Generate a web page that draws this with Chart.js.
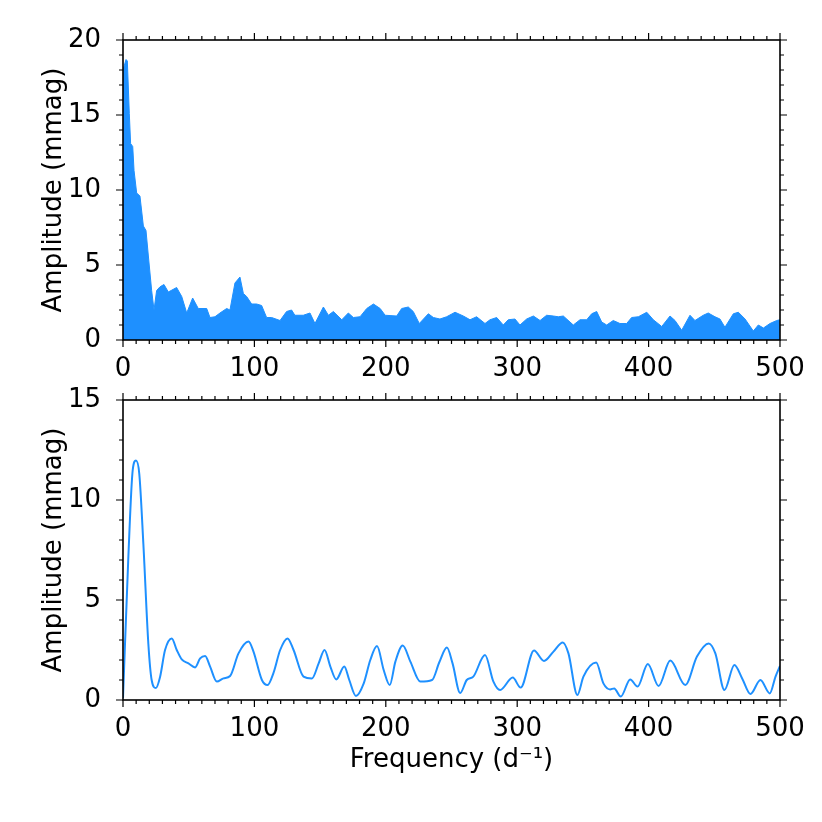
<!DOCTYPE html>
<html>
<head>
<meta charset="utf-8">
<script src="https://cdn.jsdelivr.net/npm/chart.js@4.4.0/dist/chart.umd.min.js"></script>
<style>
  body { margin: 0; background: #fff; }
  #wrap { position: relative; width: 822px; height: 822px; }
  canvas { position: absolute; left: 0; }
</style>
</head>
<body>
<div id="wrap">
  <canvas id="topChart" width="822" height="390" style="top:0;width:822px;height:390px"></canvas>
  <canvas id="botChart" width="822" height="462" style="top:360px;width:822px;height:462px"></canvas>
</div>
<script>
// upper panel: envelope of the dense periodogram (frequency d^-1, amplitude mmag)
const topFreq = [0, 2.3, 3.3, 4.8, 5.8, 7.4, 8.4, 10.4, 12.9, 15.5, 17.5, 19.3, 21.8, 23.6, 25.6, 28.2, 31.2, 34.5,
  40.8, 44.7, 48.5, 53.0, 57.3, 63.7, 66.2, 70.0, 73.8, 78.9, 81.4, 85.2, 89.0, 91.6, 94.1, 97.9, 101.7, 105.5,
  109.3, 113.1, 119.5, 124.5, 128.3, 130.8, 137.2, 142.3, 146.1, 152.5, 156.3, 160.1, 166.5, 171.5, 175.3, 180.4,
  185.5, 190.6, 195.7, 199.5, 208.3, 212.1, 217.1, 220.9, 225.5, 232.4, 236.2, 241.2, 246.3, 252.7, 259.0, 264.1,
  269.1, 275.5, 279.3, 284.4, 289.4, 293.2, 298.3, 302.1, 307.2, 312.3, 317.4, 322.4, 327.5, 331.3, 335.1, 342.7,
  347.8, 352.9, 356.7, 360.5, 364.3, 368.1, 373.1, 378.2, 383.3, 387.1, 392.2, 398.6, 403.6, 410.0, 416.3, 420.1,
  425.2, 431.5, 435.3, 441.6, 445.4, 450.5, 454.3, 458.1, 464.5, 468.3, 473.4, 479.7, 483.5, 487.4, 492.4, 497.5, 500];
const topAmp = [18.0, 18.7, 18.6, 15.1, 13.1, 12.9, 11.3, 9.8, 9.6, 7.6, 7.3, 5.6, 3.3, 2.0, 3.3, 3.55, 3.7, 3.2,
  3.5, 2.9, 1.8, 2.8, 2.1, 2.1, 1.5, 1.55, 1.8, 2.1, 2.0, 3.8, 4.2, 3.1, 2.9, 2.4, 2.4, 2.3,
  1.5, 1.5, 1.3, 1.9, 2.0, 1.65, 1.65, 1.8, 1.1, 2.2, 1.65, 1.9, 1.35, 1.8, 1.5, 1.55,
  2.1, 2.4, 2.1, 1.65, 1.6, 2.1, 2.2, 1.9, 1.1, 1.75, 1.5, 1.4, 1.55, 1.85, 1.6, 1.35,
  1.55, 1.1, 1.35, 1.5, 1.0, 1.35, 1.4, 1.0, 1.4, 1.6, 1.3, 1.65, 1.6, 1.55, 1.6, 1.0,
  1.35, 1.35, 1.75, 1.9, 1.2, 1.0, 1.3, 1.1, 1.1, 1.5, 1.55, 1.85, 1.35, 0.9, 1.6, 1.3,
  0.65, 1.65, 1.3, 1.65, 1.8, 1.55, 1.4, 0.85, 1.75, 1.85, 1.4, 0.6, 1.0, 0.8, 1.1, 1.3, 1.35];

// lower panel: smooth spectrum
const botFreq = [0, 4.1, 7.4, 9.9, 12.4, 15.5, 19.3, 21.8, 25.1, 28.2, 32.0, 37.1, 40.9, 44.7, 49.8, 54.9, 58.7,
  62.5, 66.3, 71.4, 76.5, 81.5, 87.9, 95.5, 99.3, 105.7, 110.0, 114.6, 119.6, 125.2, 129.8, 137.4, 143.8, 148.9,
  153.4, 157.8, 162.3, 168.4, 172.2, 177.3, 183.2, 188.2, 193.3, 198.4, 203.0, 207.3, 212.9, 218.7, 226.3, 235.2,
  240.8, 246.5, 250.8, 256.6, 261.6, 266.6, 275.5, 281.9, 287.0, 296.6, 302.6, 312.8, 320.4, 327.6, 334.7, 339.0,
  345.8, 350.4, 360.1, 365.6, 370.7, 373.8, 378.8, 386.0, 391.6, 399.4, 407.6, 416.5, 427.9, 436.8, 445.7, 450.8,
  457.7, 465.3, 471.2, 477.5, 485.1, 492.2, 496.6, 500];
const botAmp = [0.1, 7.2, 11.5, 11.97, 11.3, 7.8, 2.8, 1.0, 0.6, 1.15, 2.5, 3.08, 2.5, 2.03, 1.83, 1.63, 2.08,
  2.2, 1.67, 0.92, 1.08, 1.2, 2.33, 2.92, 2.42, 1.0, 0.75, 1.37, 2.5, 3.08, 2.5, 1.17, 1.08, 1.83,
  2.5, 1.67, 1.03, 1.67, 1.0, 0.2, 0.83, 2.0, 2.7, 1.5, 0.75, 1.92, 2.72, 1.92, 0.92, 1.0,
  1.9, 2.62, 1.83, 0.35, 1.0, 1.17, 2.25, 0.92, 0.5, 1.12, 0.62, 2.47, 1.95, 2.42, 2.88, 2.33,
  0.25, 1.17, 1.87, 0.83, 0.53, 0.58, 0.17, 1.03, 0.67, 1.8, 0.7, 1.97, 0.75, 2.17, 2.83, 2.33,
  0.5, 1.75, 1.08, 0.3, 1.0, 0.33, 1.17, 1.7];

const xTickLabels = ['0', '100', '200', '300', '400', '500'];
const topYLabels = ['0', '5', '10', '15', '20'];
const botYLabels = ['0', '5', '10', '15'];

const BLUE = '#1E90FF';
const FONT = { family: 'DejaVu Sans', size: 26 };

// frame + outward major/minor ticks on all four sides
const framePlugin = {
  id: 'frame',
  afterDraw(chart) {
    const { ctx, chartArea: a } = chart;
    const xs = chart.scales.x, ys = chart.scales.y;
    ctx.save();
    ctx.strokeStyle = '#000';
    ctx.lineWidth = 1.6;
    ctx.strokeRect(a.left, a.top, a.right - a.left, a.bottom - a.top);
    ctx.lineWidth = 1.2;
    ctx.beginPath();
    for (let v = xs.min; v <= xs.max + 1e-6; v += 10) {
      const px = xs.getPixelForValue(v);
      const len = v % 100 === 0 ? 7 : 4;
      ctx.moveTo(px, a.bottom); ctx.lineTo(px, a.bottom + len);
      ctx.moveTo(px, a.top); ctx.lineTo(px, a.top - len);
    }
    for (let v = ys.min; v <= ys.max + 1e-6; v += 1) {
      const py = ys.getPixelForValue(v);
      const len = v % 5 === 0 ? 7 : 4;
      ctx.moveTo(a.left, py); ctx.lineTo(a.left - len, py);
      ctx.moveTo(a.right, py); ctx.lineTo(a.right + len, py);
    }
    ctx.stroke();
    ctx.restore();
  }
};

function makeOptions(yMax, yLabels, xHeight, withXTitle) {
  return {
    responsive: false,
    animation: false,
    layout: { padding: { top: 40, right: 42, left: 0, bottom: 0 } },
    plugins: { legend: { display: false }, tooltip: { enabled: false } },
    scales: {
      x: {
        type: 'linear', min: 0, max: 500,
        grid: { display: false }, border: { display: false },
        ticks: {
          stepSize: 100, padding: 6, color: '#000', font: FONT, maxRotation: 0,
          callback: v => xTickLabels[v / 100]
        },
        title: {
          display: withXTitle, text: 'Frequency (d\u207B\u00B9)', color: '#000',
          font: { family: 'DejaVu Sans', size: 26, lineHeight: 1.2 },
          padding: { top: 0, bottom: 46 }
        },
        afterFit: s => { s.height = xHeight; }
      },
      y: {
        type: 'linear', min: 0, max: yMax,
        grid: { display: false }, border: { display: false },
        ticks: {
          stepSize: 5, padding: 14, color: '#000', font: FONT,
          callback: v => yLabels[v / 5]
        },
        title: {
          display: true, text: 'Amplitude (mmag)', color: '#000',
          font: { family: 'DejaVu Sans', size: 26, lineHeight: 1.2 },
          padding: { top: 39, bottom: 0 }
        },
        afterFit: s => { s.width = 123; }
      }
    }
  };
}

new Chart(document.getElementById('topChart'), {
  type: 'line',
  data: {
    datasets: [{
      data: topFreq.map((f, i) => ({ x: f, y: topAmp[i] })),
      borderColor: BLUE,
      backgroundColor: BLUE,
      borderWidth: 1,
      pointRadius: 0,
      tension: 0,
      fill: 'origin'
    }]
  },
  options: makeOptions(20, topYLabels, 50, false),
  plugins: [framePlugin]
});

new Chart(document.getElementById('botChart'), {
  type: 'line',
  data: {
    datasets: [{
      data: botFreq.map((f, i) => ({ x: f, y: botAmp[i] })),
      borderColor: BLUE,
      borderWidth: 2,
      pointRadius: 0,
      cubicInterpolationMode: 'monotone',
      fill: false
    }]
  },
  options: makeOptions(15, botYLabels, 122, true),
  plugins: [framePlugin]
});
</script>
</body>
</html>
